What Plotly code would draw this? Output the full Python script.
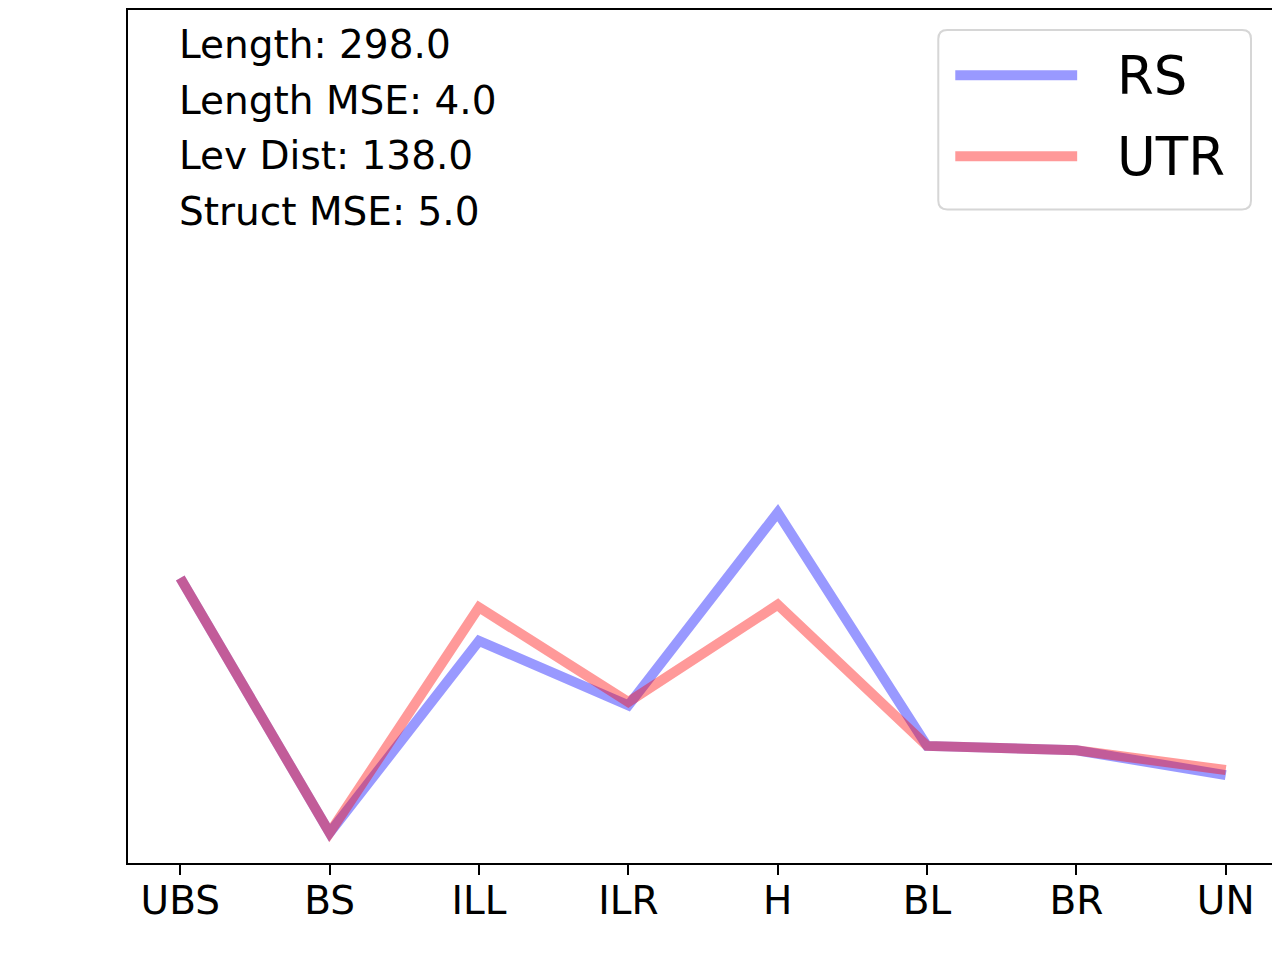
import plotly.graph_objects as go

# data (arbitrary units, no y ticks shown)
regions = ["UBS", "BS", "ILL", "ILR", "H", "BL", "BR", "UN"]
rs_vals = [33.1, 3.5, 25.8, 18.3, 40.7, 13.6, 13.1, 10.2]
utr_vals = [33.1, 3.5, 29.7, 18.7, 30.0, 13.6, 13.1, 10.8]
stats_lines = ["Length: 298.0", "Length MSE: 4.0", "Lev Dist: 138.0", "Struct MSE: 5.0"]
series_names = ["RS", "UTR"]

OFF = 8  # page body margin, the figure lands at (8, 8)
W, H = 1280 - OFF, 960 - 2 * OFF
L, R, T, B = 128 - OFF, 1279 - OFF, 0, 863 - OFF  # plot box in figure pixels
FONT = "DejaVu Sans"
BLUE = "rgba(0,0,255,0.4)"
RED = "rgba(255,0,0,0.4)"
PX_PER_UNIT = 8.63


def px(x, y):
    """screen pixel position -> paper coords"""
    x, y = x - OFF, y - OFF
    return (x - L) / (R - L), (B - y) / (B - T)


fig = go.Figure()
xs = list(range(len(regions)))
fig.add_trace(go.Scatter(x=xs, y=rs_vals, mode="lines", name=series_names[0],
                         line=dict(color=BLUE, width=10)))
fig.add_trace(go.Scatter(x=xs, y=utr_vals, mode="lines", name=series_names[1],
                         line=dict(color=RED, width=10)))

# stats text in the top-left corner
for i, txt in enumerate(stats_lines):
    ax, ay = px(177, 43 + i * 55.5)
    fig.add_annotation(x=ax, y=ay, xref="paper", yref="paper", text=txt,
                       showarrow=False, xanchor="left", yanchor="middle",
                       font=dict(family=FONT, size=39, color="black"))

# hand-drawn legend box (matplotlib style, long line samples)
x0, x1, y0, y1, r = 939, 1252, 28, 208, 9
def P(x, y):
    a, b = px(x, y)
    return f"{a:.5f},{b:.5f}"
path = (f"M {P(x0 + r, y0)} L {P(x1 - r, y0)} Q {P(x1, y0)} {P(x1, y0 + r)} "
        f"L {P(x1, y1 - r)} Q {P(x1, y1)} {P(x1 - r, y1)} "
        f"L {P(x0 + r, y1)} Q {P(x0, y1)} {P(x0, y1 - r)} "
        f"L {P(x0, y0 + r)} Q {P(x0, y0)} {P(x0 + r, y0)} Z")
fig.add_shape(type="path", path=path, xref="paper", yref="paper",
              line=dict(color="#d6d6d6", width=2), fillcolor="rgba(255,255,255,0.8)")
for name, col, ly in [(series_names[0], BLUE, 73.5), (series_names[1], RED, 154.5)]:
    a0, b0 = px(956, ly)
    a1, _ = px(1078, ly)
    fig.add_shape(type="line", x0=a0, x1=a1, y0=b0, y1=b0, xref="paper", yref="paper",
                  line=dict(color=col, width=10))
    tx, ty = px(1116, ly)
    fig.add_annotation(x=tx, y=ty, xref="paper", yref="paper", text=name,
                       showarrow=False, xanchor="left", yanchor="middle",
                       font=dict(family=FONT, size=53, color="black"))

fig.update_layout(
    width=W, height=H,
    margin=dict(l=L, r=W - R, t=T, b=H - B),
    paper_bgcolor="white", plot_bgcolor="white",
    showlegend=False,
    font=dict(family=FONT, color="black"),
)
fig.update_xaxes(
    range=[-0.35, 7.35], tickmode="array", tickvals=xs, ticktext=regions,
    ticks="outside", ticklen=10, tickwidth=2, tickcolor="black",
    ticklabelstandoff=-8,
    showline=True, linecolor="black", linewidth=2, mirror=True,
    showgrid=False, zeroline=False, tickfont=dict(family=FONT, size=39, color="black"),
)
fig.update_yaxes(
    range=[0, (B - T) / PX_PER_UNIT], showticklabels=False, ticks="",
    showline=True, linecolor="black", linewidth=2, mirror=True,
    showgrid=False, zeroline=False,
)

fig.write_html("out.html")
